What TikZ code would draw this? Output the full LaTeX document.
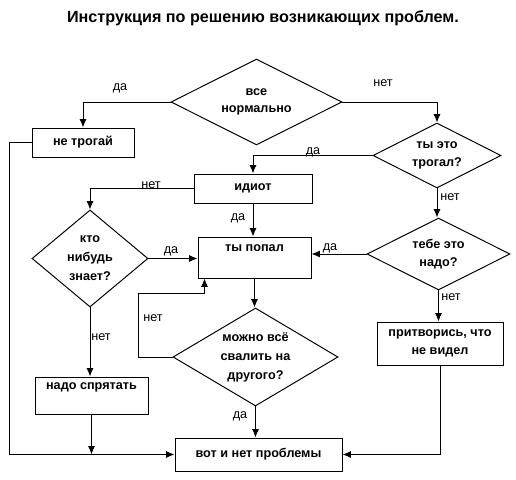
\documentclass[tikz,border=0pt]{standalone}
\usepackage{fontspec}
\setmainfont{Liberation Sans}
\usetikzlibrary{shapes.geometric,arrows.meta}
\newcommand\pxl{0.025cm}

\begin{document}
\begin{tikzpicture}[x=0.025cm, y=-0.025cm,
	every node/.style={font=\fontsize{9}{12.5}\selectfont},
	box/.style={draw, rectangle, line width=0.7pt, inner sep=0pt, align=center, font=\bfseries\fontsize{9}{12.5}\selectfont},
	ask/.style={draw, diamond, aspect=2, line width=0.7pt, inner sep=0pt, align=center, font=\bfseries\fontsize{9}{12.5}\selectfont},
	arr/.style={line width=0.7pt, -{Latex[length=6pt,width=5pt]}}]
			\useasboundingbox (0,0) rectangle (516,480);
			\node[font=\bfseries\fontsize{11.5}{14}\selectfont] (title) at (263,18) {Инструкция по решению возникающих проблем.};
			
			\node[ask, minimum width=171*\pxl, minimum height=86*\pxl] (norm) at (256.5,102) {все\\нормально};
			\node[box, minimum width=102*\pxl, minimum height=29*\pxl] (netrogai) at (83,142.5) {не трогай};
			\node[ask, minimum width=128*\pxl, minimum height=65*\pxl] (trogal) at (437,155.5) {ты это\\трогал?};
			\node[box, minimum width=118*\pxl, minimum height=29*\pxl] (idiot) at (253,188.5) {идиот};
			\node[ask, aspect=1.2, minimum width=116*\pxl, minimum height=97*\pxl, font=\bfseries\fontsize{9}{13.5}\selectfont] (knows) at (90,258.5) {кто\\нибудь\\знает?};
			\node[box, minimum width=113*\pxl, minimum height=41*\pxl, text height=10pt, text depth=19pt] (popal) at (254.5,257.5) {ты попал};
			\node[ask, minimum width=143*\pxl, minimum height=72*\pxl] (nado) at (438.5,254) {тебе это\\надо?};
			\node[box, minimum width=126*\pxl, minimum height=43*\pxl] (pretend) at (440,343.5) {притворись, что\\не видел};
			\node[ask, aspect=1.7, minimum width=165*\pxl, minimum height=98*\pxl, font=\bfseries\fontsize{9}{13.5}\selectfont] (can) at (255.5,357) {можно всё\\свалить на\\другого?};
			\node[box, minimum width=113*\pxl, minimum height=37*\pxl, text height=9pt, text depth=17pt] (hide) at (91.5,395.5) {надо спрятать};
			\node[box, minimum width=167*\pxl, minimum height=33*\pxl] (calm) at (258.5,454.5) {вот и нет проблемы};
			
			\draw[arr] (norm.west) -| (netrogai.north);
			\draw[arr] (norm.east) -| (trogal.north);
			\draw[arr] (trogal.west) -| (idiot.north);
			\draw[arr] (idiot.west) -| (knows.north);
			\draw[arr] (idiot.south) -- (idiot.south |- popal.north);
			\draw[arr] (trogal.south) -- (trogal.south |- nado.north);
			\draw[arr] (knows.east) -- (knows.east -| popal.west);
			\draw[arr] (nado.west) -- (nado.west -| popal.east);
			\draw[arr] (nado.south) -- (nado.south |- pretend.north);
			\draw[arr] (popal.south) -- (popal.south |- can.north);
			\coordinate (loop) at (138,293);
			\draw[arr] (can.west) -| (loop) -| ([xshift=7*\pxl]popal.south west);
			\draw[arr] (can.south) -- (can.south |- calm.north);
			\draw[arr] (knows.south) -- (knows.south |- hide.north);
			\draw[arr] (hide.south) -- (hide.south |- calm.west);
			\draw[arr] (netrogai.west) -- ++(-22,0) |- (calm.west);
			\draw[arr] (pretend.south) |- (calm.east);
			
			\node (da1) at (120,88) {да};
			\node (net1) at (383,83) {нет};
			\node (da2) at (313,152) {да};
			\node (net2) at (151,185) {нет};
			\node (da3) at (238,218) {да};
			\node (net3) at (450,197) {нет};
			\node (da4) at (171,251) {да};
			\node (da5) at (330,248) {да};
			\node (net4) at (451,297) {нет};
			\node (net5) at (153,318) {нет};
			\node (net6) at (101,337) {нет};
			\node (da6) at (240,416) {да};
			\end{tikzpicture}
\end{document}
